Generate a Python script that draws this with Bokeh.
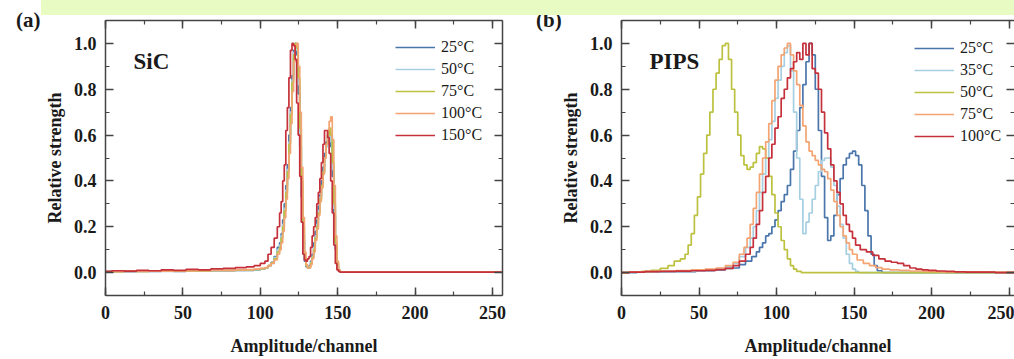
from bokeh.plotting import figure
from bokeh.models import (LinearAxis, SingleIntervalTicker, Range1d, Legend, LegendItem,
                          Label, Div, PrintfTickFormatter, CustomJSTickFormatter)
from bokeh.layouts import row, column
from bokeh.embed import file_html
from bokeh.resources import INLINE

# ---------------- data: panel (a) SiC ----------------
SIC_CH = [0, 8, 16, 24, 32, 40, 48, 56, 64, 72, 80, 88, 94, 98, 102, 104, 106, 108, 110, 112,
          113, 114, 115, 116, 117, 118, 119, 120, 121, 122,
          123, 124, 125, 126, 127, 128, 129, 130, 131, 132,
          133, 134, 135, 136, 137, 138, 139, 140, 141, 142,
          143, 144, 145, 146, 147, 148, 149, 150, 151, 152, 156, 256]
SIC_LABELS = ["25°C", "50°C", "75°C", "100°C", "150°C"]
SIC_25 = [0.004, 0.005, 0.004, 0.006, 0.005, 0.006, 0.005, 0.007, 0.006, 0.008, 0.008, 0.01,
          0.01, 0.012, 0.015, 0.02, 0.03, 0.045, 0.07, 0.11,
          0.13, 0.17, 0.23, 0.3, 0.38, 0.47, 0.6, 0.72, 0.86, 0.97,
          1.0, 0.95, 0.78, 0.55, 0.33, 0.14, 0.05, 0.025, 0.02, 0.03,
          0.05, 0.08, 0.13, 0.18, 0.23, 0.29, 0.34, 0.4, 0.46, 0.52,
          0.57, 0.6, 0.61, 0.55, 0.42, 0.25, 0.1, 0.03, 0.008, 0.003, 0.002, 0.002]
SIC_50 = [0.003, 0.004, 0.005, 0.004, 0.006, 0.005, 0.006, 0.007, 0.006, 0.008, 0.009, 0.01,
          0.011, 0.013, 0.016, 0.02, 0.028, 0.04, 0.065, 0.1,
          0.12, 0.16, 0.21, 0.28, 0.36, 0.45, 0.57, 0.7, 0.84, 0.96,
          1.0, 0.97, 0.82, 0.6, 0.37, 0.17, 0.06, 0.03, 0.02, 0.025,
          0.045, 0.07, 0.11, 0.16, 0.21, 0.27, 0.33, 0.38, 0.44, 0.5,
          0.55, 0.59, 0.6, 0.57, 0.45, 0.28, 0.12, 0.04, 0.01, 0.003, 0.002, 0.002]
SIC_75 = [0.004, 0.004, 0.006, 0.005, 0.006, 0.007, 0.006, 0.008, 0.007, 0.009, 0.01, 0.011,
          0.012, 0.014, 0.017, 0.021, 0.03, 0.042, 0.06, 0.09,
          0.11, 0.15, 0.2, 0.27, 0.35, 0.44, 0.56, 0.69, 0.83, 0.95,
          1.0, 0.98, 0.85, 0.63, 0.4, 0.2, 0.07, 0.03, 0.02, 0.022,
          0.04, 0.065, 0.1, 0.15, 0.2, 0.26, 0.32, 0.38, 0.44, 0.5,
          0.56, 0.6, 0.63, 0.6, 0.48, 0.3, 0.13, 0.045, 0.012, 0.003, 0.002, 0.002]
SIC_100 = [0.003, 0.004, 0.005, 0.005, 0.006, 0.006, 0.007, 0.007, 0.008, 0.009, 0.01, 0.012,
           0.013, 0.015, 0.018, 0.022, 0.03, 0.04, 0.055, 0.08,
           0.1, 0.13, 0.18, 0.24, 0.32, 0.41, 0.52, 0.65, 0.79, 0.92,
           0.99, 1.0, 0.9, 0.7, 0.46, 0.24, 0.09, 0.035, 0.02, 0.02,
           0.035, 0.06, 0.09, 0.14, 0.19, 0.25, 0.31, 0.37, 0.43, 0.5,
           0.56, 0.62, 0.66, 0.68, 0.58, 0.38, 0.16, 0.05, 0.012, 0.003, 0.002, 0.002]
SIC_150 = [0.005, 0.008, 0.006, 0.01, 0.008, 0.012, 0.01, 0.014, 0.012, 0.016, 0.018, 0.022,
           0.025, 0.03, 0.04, 0.05, 0.08, 0.11, 0.15, 0.2,
           0.26, 0.31, 0.4, 0.47, 0.62, 0.72, 0.85, 0.97, 1.0, 0.99,
           0.93, 0.74, 0.6, 0.42, 0.22, 0.08, 0.055, 0.05, 0.06, 0.07,
           0.11, 0.16, 0.2, 0.24, 0.3, 0.35, 0.41, 0.48, 0.56, 0.62,
           0.62, 0.59, 0.52, 0.4, 0.26, 0.12, 0.04, 0.012, 0.005, 0.002, 0.002, 0.002]

# ---------------- data: panel (b) PIPS ----------------
PIPS_LABELS = ["25°C", "35°C", "50°C", "75°C", "100°C"]
PIPS_25_CH = [0, 20, 40, 56, 64, 70, 74, 78, 82, 86, 88, 90, 92, 94, 96, 98, 100, 102, 104, 106,
              108, 110, 112, 114, 116, 118, 120, 122, 124, 126, 128, 130, 132, 134, 136, 138,
              140, 142, 144, 146, 148, 150, 152, 154, 156, 158, 160, 162, 164, 166, 170, 256]
PIPS_25 = [0.0, 0.002, 0.004, 0.008, 0.012, 0.018, 0.02, 0.035, 0.05, 0.07, 0.09, 0.11, 0.13,
           0.16, 0.17, 0.2, 0.23, 0.27, 0.31, 0.34, 0.38, 0.45, 0.53, 0.62, 0.72, 0.82, 0.92,
           1.0, 0.95, 0.8, 0.62, 0.42, 0.24, 0.14, 0.16, 0.25, 0.34, 0.41, 0.47, 0.5, 0.52,
           0.53, 0.51, 0.47, 0.38, 0.27, 0.16, 0.08, 0.03, 0.008, 0.0, 0.0]
PIPS_35_CH = [0, 20, 40, 56, 64, 70, 74, 78, 82, 84, 86, 88, 90, 92, 94, 96, 98, 100, 102, 104,
              106, 108, 110, 112, 114, 116, 118, 120, 122, 124, 126, 128, 130, 132, 134, 136,
              138, 140, 142, 144, 146, 148, 150, 152, 154, 256]
PIPS_35 = [0.0, 0.003, 0.006, 0.01, 0.015, 0.025, 0.04, 0.07, 0.11, 0.15, 0.2, 0.27, 0.35,
           0.43, 0.5, 0.58, 0.66, 0.76, 0.84, 0.9, 0.96, 0.99, 0.88, 0.7, 0.5, 0.32, 0.17,
           0.22, 0.26, 0.32, 0.38, 0.44, 0.49, 0.5, 0.5, 0.46, 0.38, 0.29, 0.21, 0.15, 0.08,
           0.04, 0.015, 0.005, 0.0, 0.0]
PIPS_50_CH = [0, 10, 16, 22, 28, 32, 36, 40, 42, 44, 46, 48, 50, 52, 54, 56, 58, 60, 62, 64, 66,
              68, 70, 72, 74, 76, 78, 80, 82, 84, 86, 88, 90, 92, 94, 96, 98, 100, 102, 104,
              106, 108, 110, 112, 114, 118, 256]
PIPS_50 = [0.0, 0.002, 0.005, 0.01, 0.018, 0.03, 0.05, 0.06, 0.08, 0.12, 0.17, 0.25, 0.33,
           0.43, 0.52, 0.6, 0.7, 0.8, 0.87, 0.93, 0.99, 1.0, 0.93, 0.8, 0.7, 0.6, 0.51, 0.47,
           0.45, 0.46, 0.48, 0.52, 0.55, 0.54, 0.5, 0.42, 0.34, 0.26, 0.2, 0.14, 0.1, 0.06,
           0.03, 0.015, 0.005, 0.0, 0.0]
PIPS_75_CH = [0, 10, 20, 30, 40, 50, 58, 64, 70, 74, 78, 80, 82, 84, 86, 88, 90, 92, 94, 96, 98,
              100, 102, 104, 106, 108, 110, 112, 114, 116, 118, 120, 122, 124, 126, 128, 130,
              132, 134, 136, 138, 140, 142, 144, 146, 148, 150, 154, 158, 162, 166, 170, 176,
              182, 190, 200, 210, 256]
PIPS_75 = [0.0, 0.003, 0.005, 0.007, 0.009, 0.012, 0.015, 0.02, 0.03, 0.045, 0.08, 0.11, 0.15,
           0.21, 0.28, 0.35, 0.43, 0.5, 0.57, 0.65, 0.75, 0.84, 0.9, 0.95, 0.98, 1.0, 0.95,
           0.88, 0.82, 0.73, 0.64, 0.57, 0.53, 0.51, 0.49, 0.47, 0.45, 0.44, 0.41, 0.36, 0.31,
           0.25, 0.2, 0.16, 0.13, 0.1, 0.08, 0.055, 0.04, 0.03, 0.022, 0.015, 0.012, 0.01,
           0.007, 0.005, 0.003, 0.002]
PIPS_100_CH = [0, 10, 20, 30, 40, 50, 58, 64, 70, 74, 78, 82, 84, 86, 88, 90, 92, 94, 96, 98,
               100, 102, 104, 106, 108, 110, 112, 114, 116, 118, 120, 122, 124, 126, 128, 130,
               132, 134, 136, 138, 140, 142, 144, 146, 148, 150, 152, 156, 160, 164, 168, 172,
               176, 180, 184, 188, 192, 196, 200, 206, 212, 218, 226, 256]
PIPS_100 = [0.0, 0.002, 0.004, 0.005, 0.006, 0.008, 0.01, 0.013, 0.018, 0.03, 0.05, 0.08, 0.11,
            0.15, 0.21, 0.27, 0.35, 0.42, 0.5, 0.56, 0.63, 0.68, 0.76, 0.8, 0.85, 0.89, 0.92,
            0.96, 0.93, 1.0, 0.95, 1.0, 0.89, 0.87, 0.8, 0.7, 0.61, 0.54, 0.47, 0.4, 0.35, 0.3,
            0.25, 0.21, 0.18, 0.15, 0.12, 0.1, 0.09, 0.075, 0.06, 0.05, 0.045, 0.04, 0.03, 0.02,
            0.015, 0.012, 0.01, 0.007, 0.005, 0.003, 0.002, 0.0]

COLORS = ["#4a76ab", "#a6cfe2", "#bcc13f", "#f3a472", "#c5303a"]

FONT = "Liberation Serif"
AX = "#444444"
TXT = "#1a1a1a"


def style_axis(ax, show_labels, fmt=None):
    ax.axis_line_color = AX
    ax.axis_line_width = 1.5
    ax.major_tick_line_color = AX
    ax.major_tick_line_width = 1.5
    ax.minor_tick_line_color = AX
    ax.minor_tick_line_width = 1.2
    ax.major_tick_in = 8
    ax.major_tick_out = 0
    ax.minor_tick_in = 4
    ax.minor_tick_out = 0
    ax.major_label_text_font = FONT
    ax.major_label_text_font_style = "bold"
    ax.major_label_text_color = TXT
    ax.axis_label_text_font = FONT
    ax.axis_label_text_font_style = "bold"
    ax.axis_label_text_color = TXT
    ax.axis_label_text_font_size = "18px"
    if show_labels:
        ax.major_label_text_font_size = "18px"
        if fmt is not None:
            ax.formatter = fmt
    else:
        ax.major_label_text_font_size = "1px"
        ax.major_label_standoff = 0
        ax.formatter = CustomJSTickFormatter(code="return '';")


def make_panel(width, x_end, min_left, min_right, right_line, series, labels, name, legend_xy,
               border_fill):
    p = figure(width=width, height=344, x_range=Range1d(0, x_end), y_range=Range1d(-0.1, 1.1),
               output_backend="svg", toolbar_location=None, x_axis_type=None, y_axis_type=None,
               min_border_left=min_left, min_border_right=min_right, min_border_top=5,
               min_border_bottom=64, margin=0)
    p.outline_line_color = None
    p.grid.visible = False
    p.background_fill_color = "white"
    p.border_fill_color = border_fill

    xt = lambda: SingleIntervalTicker(interval=50, num_minor_ticks=2)
    yt = lambda: SingleIntervalTicker(interval=0.2, num_minor_ticks=2)

    xb = LinearAxis(ticker=xt(), axis_label="Amplitude/channel")
    style_axis(xb, True)
    xb.major_label_standoff = 10
    xb.axis_label_standoff = 14
    p.add_layout(xb, "below")

    yl = LinearAxis(ticker=yt(), axis_label="Relative strength")
    style_axis(yl, True, PrintfTickFormatter(format="%.1f"))
    yl.major_label_standoff = 9
    yl.axis_label_standoff = 6
    p.add_layout(yl, "left")

    xa = LinearAxis(ticker=xt())
    style_axis(xa, False)
    p.add_layout(xa, "above")

    yr = LinearAxis(ticker=yt())
    style_axis(yr, False)
    if not right_line:
        yr.axis_line_color = None
    p.add_layout(yr, "right")

    items = []
    for (xs, ys), col, lab in zip(series, COLORS, labels):
        r = p.step(xs, ys, mode="center", line_color=col, line_width=1.7)
        items.append(LegendItem(label=lab, renderers=[r]))

    leg = Legend(items=items, location=legend_xy, border_line_color=None,
                 background_fill_alpha=0, label_text_font=FONT, label_text_font_size="16px",
                 label_text_color=TXT, glyph_width=40, glyph_height=20, label_height=20,
                 label_standoff=6, spacing=2, padding=0, margin=0)
    p.add_layout(leg)

    p.add_layout(Label(x=28, y=234, x_units="screen", y_units="screen", text=name,
                       text_font=FONT, text_font_style="bold", text_font_size="23px",
                       text_color=TXT, text_baseline="alphabetic"))
    return p


sic_series = [(SIC_CH, SIC_25), (SIC_CH, SIC_50), (SIC_CH, SIC_75), (SIC_CH, SIC_100),
              (SIC_CH, SIC_150)]
pips_series = [(PIPS_25_CH, PIPS_25), (PIPS_35_CH, PIPS_35), (PIPS_50_CH, PIPS_50),
               (PIPS_75_CH, PIPS_75), (PIPS_100_CH, PIPS_100)]

p1 = make_panel(484, 256.5, 64, 23, True, sic_series, SIC_LABELS, "SiC", (290, 150), "white")
p2 = make_panel(457, 253.5, 63, 0, False, pips_series, PIPS_LABELS, "PIPS", (293, 149), None)

TAG_CSS = ("font-family:'Liberation Serif';font-weight:bold;font-size:21px;line-height:21px;"
           "color:#1a1a1a;white-space:nowrap;")
tag_a = Div(text=f'<div style="{TAG_CSS}padding-top:10px;padding-left:16px;">(a)</div>',
            width=41, height=359, margin=0, styles={"overflow": "visible"})
tag_b = Div(text=f'<div style="{TAG_CSS}margin-top:-6px;padding-left:11px;">(b)</div>',
            width=32, height=344, margin=0,
            styles={"overflow": "visible", "clip-path": "inset(0px -20px 0px 0px)"})

banner = Div(text="", width=973, height=15, margin=0,
             styles={"background-color": "#e8fbc3"})

layout = row(tag_a, column(banner, row(p1, tag_b, p2, margin=0), margin=0), margin=0)

open("out.html", "w").write(file_html(layout, INLINE))
